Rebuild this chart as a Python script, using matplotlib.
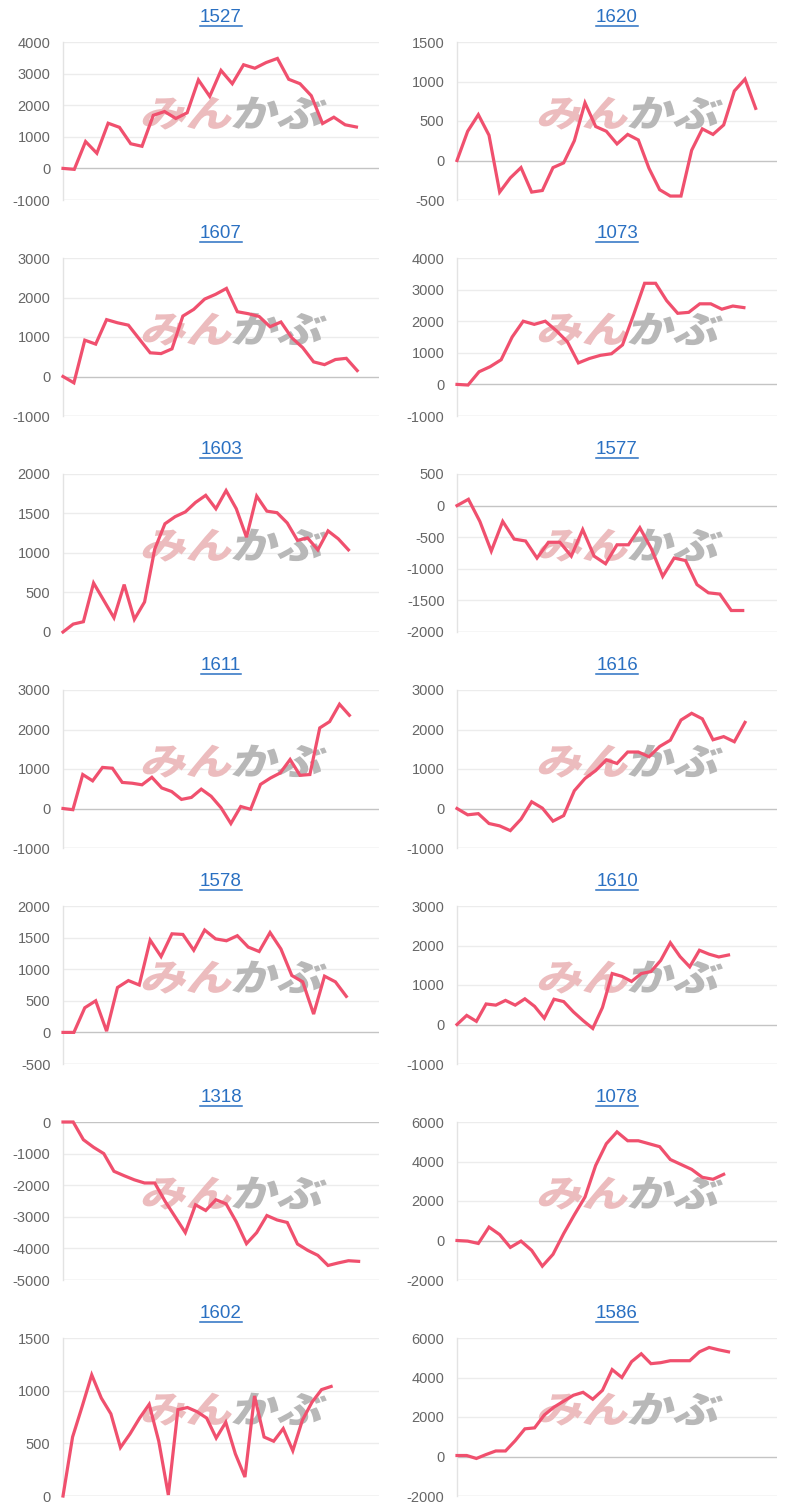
import matplotlib
matplotlib.use("Agg")
import matplotlib.pyplot as plt
import numpy as np
from matplotlib.textpath import TextPath
from matplotlib.patches import PathPatch
from matplotlib.font_manager import FontProperties
from matplotlib.transforms import Affine2D
from matplotlib.lines import Line2D

# ---- data (cumulative values per code) ----
titles = ["1527", "1620", "1607", "1073", "1603", "1577", "1611",
          "1616", "1578", "1610", "1318", "1078", "1602", "1586"]

s1527 = [0, -30, 850, 480, 1430, 1300, 780, 700, 1680, 1800, 1580, 1760, 2800, 2280,
         3100, 2680, 3280, 3170, 3350, 3480, 2820, 2680, 2300, 1420, 1620, 1380, 1310]
s1620 = [0, 370, 580, 320, -400, -220, -90, -400, -380, -90, -30, 250, 730, 430, 370,
         210, 330, 260, -100, -370, -450, -450, 130, 400, 330, 450, 880, 1030, 660]
s1607 = [0, -160, 920, 820, 1440, 1360, 1300, 950, 600, 580, 700, 1530, 1700, 1960,
         2080, 2230, 1640, 1590, 1520, 1260, 1380, 980, 730, 370, 300, 430, 460, 150]
s1073 = [0, -20, 400, 560, 780, 1500, 2000, 1900, 2000, 1700, 1350, 680, 820, 920,
         970, 1250, 2200, 3200, 3200, 2650, 2250, 2280, 2550, 2550, 2380, 2480, 2430]
s1603 = [0, 100, 130, 620, 400, 180, 600, 160, 380, 1050, 1370, 1460, 1520, 1640, 1730,
         1560, 1790, 1560, 1200, 1720, 1530, 1510, 1380, 1160, 1190, 1040, 1280, 1180, 1040]
s1577 = [0, 100, -250, -720, -250, -530, -560, -830, -580, -580, -800, -380, -800,
         -920, -620, -620, -350, -680, -1120, -830, -870, -1250, -1380, -1400, -1660, -1660]
s1611 = [0, -30, 860, 700, 1040, 1020, 660, 640, 600, 790, 520, 430, 230, 280, 490,
         310, 20, -380, 50, -20, 610, 770, 900, 1240, 840, 860, 2040, 2200, 2640, 2360]
s1616 = [0, -160, -130, -380, -440, -560, -270, 170, 10, -320, -180, 450, 760, 960,
         1230, 1140, 1430, 1430, 1310, 1570, 1730, 2240, 2410, 2270, 1740, 1820, 1690, 2180]
s1578 = [0, 0, 390, 500, 20, 710, 820, 750, 1460, 1200, 1560, 1550, 1300, 1620,
         1480, 1450, 1530, 1350, 1280, 1580, 1320, 900, 800, 290, 890, 800, 570]
s1610 = [0, 230, 80, 520, 490, 610, 490, 650, 460, 160, 640, 580, 320, 100, -100,
         430, 1290, 1220, 1090, 1290, 1340, 1620, 2070, 1720, 1460, 1880, 1780, 1710, 1760]
s1318 = [0, 0, -560, -800, -1000, -1560, -1700, -1830, -1930, -1930, -2500, -3000,
         -3500, -2620, -2800, -2460, -2590, -3160, -3850, -3500, -2960, -3100, -3180,
         -3860, -4060, -4220, -4540, -4460, -4390, -4410]
s1078 = [0, -30, -150, 680, 300, -350, -30, -500, -1300, -700, 350, 1300, 2200, 3800,
         4900, 5500, 5050, 5050, 4900, 4750, 4100, 3850, 3600, 3200, 3100, 3350]
s1602 = [0, 560, 850, 1150, 930, 780, 460, 590, 740, 870, 520, 10, 820, 840, 800,
         740, 550, 700, 400, 180, 950, 560, 520, 640, 430, 720, 890, 1010, 1040]
s1586 = [50, 50, -100, 100, 280, 280, 800, 1400, 1450, 2100, 2500, 2800, 3100, 3250,
         2900, 3350, 4400, 4000, 4800, 5200, 4700, 4750, 4850, 4850, 4850, 5300, 5520,
         5400, 5300]

series = [s1527, s1620, s1607, s1073, s1603, s1577, s1611,
          s1616, s1578, s1610, s1318, s1078, s1602, s1586]

# y axis (min, max, step) for each chart
y_ranges = [(-1000, 4000, 1000), (-500, 1500, 500), (-1000, 3000, 1000), (-1000, 4000, 1000),
            (0, 2000, 500), (-2000, 500, 500), (-1000, 3000, 1000), (-1000, 3000, 1000),
            (-500, 2000, 500), (-1000, 3000, 1000), (-5000, 0, 1000), (-2000, 6000, 2000),
            (0, 1500, 500), (-2000, 6000, 2000)]
# number of category slots on the x axis
x_slots = [28, 30, 29, 29, 31, 28, 32, 30, 29, 33, 31, 30, 33, 33]

W, H, DPI = 800, 1512, 100
LINE = "#f0506e"
LINK = "#2a70c2"

fig = plt.figure(figsize=(W / DPI, H / DPI), dpi=DPI)
fig.patch.set_facecolor("white")

wm_font = FontProperties(family="Noto Sans CJK JP", weight="heavy")
p_min = TextPath((0, 0), "みん", size=40, prop=wm_font)
p_kabu = TextPath((0, 0), "かぶ", size=40, prop=wm_font)
e1 = p_min.get_extents()
e2 = p_kabu.get_extents()

title_texts = []
for i, (name, vals) in enumerate(zip(titles, series)):
    row, col = divmod(i, 2)
    x0 = 63 if col == 0 else 457
    x1 = 379 if col == 0 else 777
    top = 42 + 216 * row
    bot = top + 158
    ax = fig.add_axes([x0 / W, 1 - bot / H, (x1 - x0) / W, (bot - top) / H])

    lo, hi, step = y_ranges[i]
    ticks = np.arange(lo, hi + step, step)
    ax.set_ylim(lo, hi)
    ax.set_xlim(0, x_slots[i])
    ax.set_yticks(ticks)
    ax.set_yticklabels([str(int(t)) for t in ticks])
    ax.set_xticks([])
    ax.tick_params(axis="y", length=0, pad=9, labelsize=10.5, labelcolor="#666666")
    for lab in ax.get_yticklabels():
        lab.set_fontfamily("Liberation Sans")
    for sp in ["top", "right", "bottom"]:
        ax.spines[sp].set_visible(False)
    ax.spines["left"].set_color("#e3e3e3")
    ax.spines["left"].set_linewidth(1)
    ax.patch.set_alpha(0)

    for t in ticks:
        if t == 0:
            c = "#c4c4c4"
        elif t == lo:
            c = "#d4d4d4"
        else:
            c = "#ececec"
        ax.axhline(t, color=c, lw=1, zorder=0.5)

    # watermark
    gap = 2
    total_w = (e1.x1 - e1.x0) + gap + (e2.x1 - e2.x0)
    hgt = max(e1.y1, e2.y1) - min(e1.y0, e2.y0)
    sx = 180 / total_w
    cx = x0 + 0.53 * (x1 - x0)
    cy = H - (bot - 0.55 * (bot - top))
    base = Affine2D().scale(sx, 33 / hgt).skew_deg(14, 0)
    left_px = cx - 180 / 2
    y_px = cy - 33 / 2
    t1 = (Affine2D().translate(-e1.x0, -min(e1.y0, e2.y0)) + base
          + Affine2D().translate(left_px, y_px).scale(1 / DPI) + fig.dpi_scale_trans)
    t2 = (Affine2D().translate(-e2.x0 + (e1.x1 - e1.x0) + gap, -min(e1.y0, e2.y0)) + base
          + Affine2D().translate(left_px, y_px).scale(1 / DPI) + fig.dpi_scale_trans)
    ax.add_artist(PathPatch(p_min, transform=t1, facecolor="#ecbcbe", edgecolor="none",
                            zorder=1, clip_on=False))
    ax.add_artist(PathPatch(p_kabu, transform=t2, facecolor="#b8b8b8", edgecolor="none",
                            zorder=1, clip_on=False))

    ax.plot(np.arange(len(vals)), vals, color=LINE, lw=2.3, solid_joinstyle="miter",
            zorder=3, clip_on=False)

    tx = fig.text((x0 + x1) / 2 / W, 1 - (row * 216 + 18) / H, name, ha="center",
                  va="center", color=LINK, fontsize=13.5, family="Liberation Sans")
    title_texts.append(tx)

# underline the titles like links
fig.canvas.draw()
r = fig.canvas.get_renderer()
for tx in title_texts:
    bb = tx.get_window_extent(renderer=r)
    yline = bb.y0 + 1
    fig.add_artist(Line2D([bb.x0 / W, bb.x1 / W], [yline / H, yline / H],
                          transform=fig.transFigure, color=LINK, lw=1.1))

fig.savefig("out.png", dpi=DPI)
